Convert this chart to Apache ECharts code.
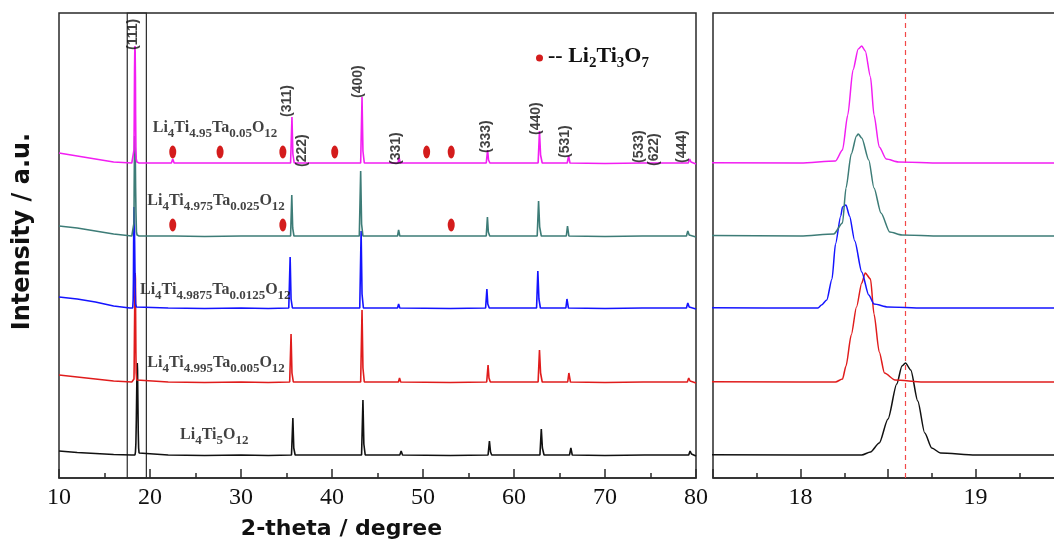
<!DOCTYPE html>
<html>
<head>
<meta charset="utf-8">
<script src="https://cdn.jsdelivr.net/npm/echarts@6/dist/echarts.min.js"></script>
<style>
  html, body { margin: 0; padding: 0; background: #fff; overflow: hidden; }
  /* a bit wider than the window: the zoom panel runs off the right edge like the original */
  #chart { width: 1066px; height: 547px; }
</style>
</head>
<body>
<div id="chart"></div>
<script>
// XRD patterns, intensity above each pattern's own baseline (a.u.), [2theta, I]
const blackPts = [
  [10,5],[12,3.5],[14,2.5],[16,1.5],[18,1],[18.35,1],[18.4,4],[18.45,13],[18.5,37],[18.55,72],[18.58,90],[18.6,93],
  [18.63,86],[18.67,55],[18.71,23],[18.75,8],[18.8,3],[19,1],[22,1],[26,0.5],[30,1],[33,0.5],
  [35.55,1],[35.7,38],[35.8,8],[35.95,1],[37.3,1],[37.42,3],[37.55,1],[43.25,1],[43.4,56],[43.5,12],[43.65,1],
  [47.45,1],[47.6,5],[47.75,1],[53,0.5],[57.15,1],[57.3,15],[57.42,4],[57.55,1],[62.85,1],[63.0,27],[63.12,8],[63.3,1],
  [66.1,1],[66.25,8],[66.4,1],[70,0.5],[74.35,1],[74.5,3],[74.65,1],[75.3,1],[75.45,3],[75.6,1],
  [79.2,1],[79.35,5],[79.5,2],[79.65,1],[80,0]
];
const redPts = [
  [10,8],[12,6],[14,4],[16,2],[18,1],[18.2,1],[18.24,4],[18.26,17],[18.29,48],[18.32,76],[18.35,100],[18.37,110],
  [18.4,104],[18.42,69],[18.45,31],[18.48,10],[18.54,3],[18.7,1],[22,1],[26,0.5],[30,1],[33,0.5],
  [35.35,1],[35.5,49],[35.6,10],[35.75,1],[37.1,1],[37.22,3],[37.35,1],[43.15,1],[43.3,73],[43.4,15],[43.55,1],
  [47.3,1],[47.42,5],[47.55,1],[53,0.5],[57.0,1],[57.15,18],[57.25,5],[57.4,1],[62.65,1],[62.8,33],[62.92,10],[63.1,1],
  [65.9,1],[66.03,10],[66.2,1],[70,0.5],[74.2,1],[74.35,3],[74.5,1],[75.15,1],[75.3,3],[75.45,1],
  [79.05,1],[79.2,5],[79.35,2],[79.5,1],[80,0]
];
const bluePts = [
  [10,12],[12,10],[14,7],[16,3],[17.8,1],[18.1,1],[18.12,4],[18.15,9],[18.18,30],[18.2,65],[18.23,93],[18.24,102],
  [18.26,104],[18.28,93],[18.31,68],[18.35,37],[18.39,14],[18.42,5],[18.5,2],[18.7,1],[22,1],[26,0.5],[30,1],[33,0.5],
  [35.25,1],[35.4,52],[35.5,10],[35.65,1],[37.0,1],[37.12,3],[37.25,1],[43.05,1],[43.2,78],[43.3,15],[43.45,1],
  [47.2,1],[47.32,5],[47.45,1],[53,0.5],[56.88,1],[57.02,20],[57.12,5],[57.28,1],[62.48,1],[62.62,38],[62.74,10],[62.9,1],
  [65.7,1],[65.82,10],[65.98,1],[70,0.5],[74.1,1],[74.22,3],[74.35,1],[75.05,1],[75.2,3],[75.35,1],
  [78.95,1],[79.1,6],[79.25,2],[79.4,1],[80,0]
];
const tealPts = [
  [10,11],[12,9],[14,6],[16,3],[18,1],[18.19,3],[18.24,14],[18.26,49],[18.29,83],[18.32,101],[18.33,103],[18.35,99],
  [18.39,77],[18.42,49],[18.46,24],[18.51,5],[18.58,2],[18.8,1],[22.35,1],[22.5,3],[22.65,1],[26,0.5],[30,1],
  [34.45,1],[34.6,2],[34.75,1],[35.45,1],[35.58,42],[35.68,9],[35.82,1],[37.15,1],[37.27,3],[37.4,1],
  [43.0,1],[43.15,66],[43.25,13],[43.4,1],[47.2,1],[47.32,7],[47.45,1],[53.0,1],[53.1,1.5],[53.2,1],
  [56.95,1],[57.08,20],[57.18,5],[57.33,1],[62.55,1],[62.7,36],[62.82,10],[63.0,1],[65.75,1],[65.88,11],[66.03,1],
  [70,0.5],[74.1,1],[74.22,3],[74.35,1],[75.05,1],[75.2,3],[75.35,1],[78.95,1],[79.1,6],[79.25,2],[79.4,1],[80,0]
];
const magentaPts = [
  [10,11],[12,8],[14,5],[16,2],[18,1],[18.2,3],[18.24,14],[18.27,49],[18.3,94],[18.33,115],[18.35,118],[18.37,113],
  [18.4,87],[18.42,49],[18.45,17],[18.49,5],[18.56,2],[18.8,1],[22.35,1],[22.5,5],[22.65,1],[27.55,1],[27.7,2],[27.85,1],
  [30,1],[34.45,1],[34.6,2],[34.75,1],[35.45,1],[35.6,47],[35.7,10],[35.85,1],[37.2,1],[37.32,2.5],[37.45,1],
  [40.2,1],[40.3,2],[40.4,1],[43.15,1],[43.3,67],[43.4,13],[43.55,1],[47.25,1],[47.38,6],[47.5,1],
  [50.3,1],[50.4,2],[50.5,1],[53.0,1],[53.1,2],[53.2,1],[56.95,1],[57.1,14],[57.2,4],[57.35,1],
  [62.65,1],[62.8,33],[62.92,9],[63.1,1],[65.85,1],[66.0,8],[66.15,1],[70,0.5],[74.1,1],[74.22,3],[74.35,1],
  [75.15,1],[75.3,3],[75.45,1],[79.15,1],[79.3,5],[79.45,2],[79.6,1],[80,0]
];

const sampleData = [blackPts, redPts, bluePts, tealPts, magentaPts];
const offsets = [22, 95, 169, 241, 314];
const colors = ['#111111', '#e01c1c', '#1414ff', '#3d7c77', '#f21ef2'];
const sampleLabels = [
  '{m|Li}{s|4}{m|Ti}{s|5}{m|O}{s|12}',
  '{m|Li}{s|4}{m|Ti}{s|4.995}{m|Ta}{s|0.005}{m|O}{s|12}',
  '{m|Li}{s|4}{m|Ti}{s|4.9875}{m|Ta}{s|0.0125}{m|O}{s|12}',
  '{m|Li}{s|4}{m|Ti}{s|4.975}{m|Ta}{s|0.025}{m|O}{s|12}',
  '{m|Li}{s|4}{m|Ti}{s|4.95}{m|Ta}{s|0.05}{m|O}{s|12}'
];
const sampleLabelAt = [[23.3, 41], [19.7, 113], [18.9, 186], [19.7, 275], [20.3, 348]];

// Li2Ti3O7 impurity marks
const dotsMagenta = [22.5, 27.7, 34.6, 40.3, 50.4, 53.1];
const dotsTeal = [22.5, 34.6, 53.1];
const dotLift = 12;

// (hkl) labels: [2theta, bottom of text]
const hklNames = ['(111)', '(311)', '(222)', '(400)', '(331)', '(333)', '(440)', '(531)', '(533)', '(622)', '(444)'];
const hklAt = [[18.2, 428], [35.05, 361], [36.7, 311], [42.9, 380], [47.0, 313], [56.9, 325],
  [62.4, 343], [65.6, 320], [73.7, 315], [75.4, 312], [78.5, 315]];

const refLine = 18.6;
const boxRange = [17.5, 19.6];

const dotPath = 'path://M50,0 A50,50 0 1,1 50,100 A50,50 0 1,1 50,0 Z';
const frame = '#2a2a2a';
const serif = 'Liberation Serif';
const sans = 'Liberation Sans';

const chart = echarts.init(document.getElementById('chart'));

const series = [];
sampleData.forEach((pts, i) => {
  const data = pts.map(p => [p[0], p[1] + offsets[i]]);
  [0, 1].forEach(g => {
    const s = {
      type: 'line', xAxisIndex: g, yAxisIndex: g, data: data,
      symbol: 'none', lineStyle: { color: colors[i], width: g === 0 ? 1.6 : 1.5 },
      z: 2 + i, silent: true, animation: false
    };
    if (g === 1) {
      s.smooth = 0.25;
      s.smoothMonotone = 'x';
    }
    if (i === 0 && g === 0) {
      s.markArea = {
        silent: true,
        itemStyle: { color: 'rgba(0,0,0,0)', borderColor: frame, borderWidth: 1.2 },
        data: [[{ xAxis: boxRange[0] }, { xAxis: boxRange[1] }]]
      };
    }
    if (i === 0 && g === 1) {
      s.markLine = {
        silent: true, symbol: 'none', label: { show: false },
        lineStyle: { color: '#f24848', type: [5, 4], width: 1.2 },
        data: [{ xAxis: refLine }]
      };
    }
    series.push(s);
  });
});

series.push({
  name: 'Li2Ti3O7', type: 'scatter', xAxisIndex: 0, yAxisIndex: 0,
  symbol: dotPath, symbolSize: [7, 13], itemStyle: { color: '#d41c1c', opacity: 1 }, z: 10,
  data: dotsMagenta.map(x => [x, offsets[4] + dotLift]).concat(dotsTeal.map(x => [x, offsets[3] + dotLift])),
  animation: false, silent: true
});

series.push({
  type: 'scatter', xAxisIndex: 0, yAxisIndex: 0, symbolSize: 1,
  itemStyle: { color: 'rgba(0,0,0,0)' }, silent: true, animation: false, z: 11,
  data: hklAt.map((p, i) => ({ value: p, name: hklNames[i] })),
  label: {
    show: true, position: 'inside', rotate: 90, align: 'left', verticalAlign: 'middle',
    formatter: p => p.name, fontFamily: sans, fontWeight: 'bold', fontSize: 14, color: '#111'
  }
});

const subRich = {
  m: { fontFamily: serif, fontWeight: 'bold', fontSize: 16, lineHeight: 20, verticalAlign: 'top', color: '#111' },
  s: { fontFamily: serif, fontWeight: 'bold', fontSize: 13, lineHeight: 12, verticalAlign: 'bottom', color: '#111' }
};

series.push({
  type: 'scatter', xAxisIndex: 0, yAxisIndex: 0, symbolSize: 1,
  itemStyle: { color: 'rgba(0,0,0,0)' }, silent: true, animation: false, z: 11,
  data: sampleLabelAt.map((p, i) => ({ value: p, name: sampleLabels[i] })),
  label: {
    show: true, position: 'inside', align: 'left', verticalAlign: 'middle',
    formatter: p => p.name, rich: subRich
  }
});

const option = {
  backgroundColor: '#fff',
  animation: false,
  legend: {
    data: ['Li2Ti3O7'], left: 531, top: 40, selectedMode: false,
    icon: dotPath, itemWidth: 7, itemHeight: 13,
    formatter: () => '{m|-- Li}{s|2}{m|Ti}{s|3}{m|O}{s|7}',
    textStyle: {
      rich: {
        m: { fontFamily: serif, fontWeight: 'bold', fontSize: 22, lineHeight: 26, verticalAlign: 'top', color: '#111' },
        s: { fontFamily: serif, fontWeight: 'bold', fontSize: 15, lineHeight: 14, verticalAlign: 'bottom', color: '#111' }
      }
    }
  },
  grid: [
    { left: 59, width: 637, top: 13, height: 465, show: true, borderColor: frame, borderWidth: 1.5 },
    { left: 713, width: 353, top: 13, height: 465, show: true, borderColor: frame, borderWidth: 1.5 }
  ],
  xAxis: [
    {
      gridIndex: 0, type: 'value', min: 10, max: 80, interval: 10,
      name: '2-theta / degree', nameLocation: 'middle', nameGap: 40,
      nameTextStyle: { fontFamily: 'DejaVu Sans', fontWeight: 'bold', fontSize: 22, color: '#111', padding: [0, 72, 0, 0] },
      axisLine: { lineStyle: { color: frame, width: 1.5 } },
      axisTick: { inside: true, length: 9, lineStyle: { color: frame, width: 1.5 } },
      minorTick: { show: true, splitNumber: 2, length: 5, lineStyle: { color: frame, width: 1.5 } },
      axisLabel: { fontFamily: serif, fontSize: 24, color: '#111', margin: 8 },
      splitLine: { show: false }
    },
    {
      gridIndex: 1, type: 'value', min: 17.5, max: 19.5, interval: 0.5,
      axisLine: { lineStyle: { color: frame, width: 1.5 } },
      axisTick: { inside: true, length: 9, lineStyle: { color: frame, width: 1.5 } },
      minorTick: { show: true, splitNumber: 2, length: 5, lineStyle: { color: frame, width: 1.5 } },
      axisLabel: {
        fontFamily: serif, fontSize: 24, color: '#111', margin: 8,
        formatter: v => (Number.isInteger(v) ? String(v) : '')
      },
      splitLine: { show: false }
    }
  ],
  yAxis: [
    {
      gridIndex: 0, type: 'value', min: 0, max: 465,
      name: 'Intensity / a.u.', nameLocation: 'middle', nameGap: 24,
      nameTextStyle: { fontFamily: 'DejaVu Sans', fontWeight: 'bold', fontSize: 24, color: '#111', padding: [0, 0, 0, 28] },
      axisLine: { show: false }, axisTick: { show: false }, axisLabel: { show: false }, splitLine: { show: false }
    },
    {
      gridIndex: 1, type: 'value', min: 0, max: 465, show: false
    }
  ],
  series: series
};

chart.setOption(option);
</script>
</body>
</html>
